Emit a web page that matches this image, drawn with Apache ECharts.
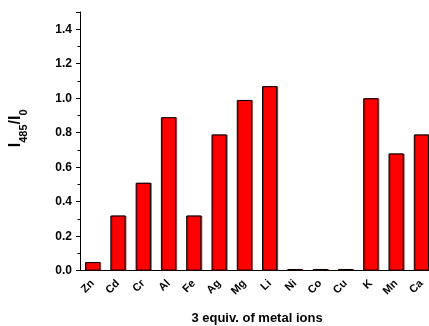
<!DOCTYPE html>
<html><head><meta charset="utf-8">
<script src="https://cdn.jsdelivr.net/npm/echarts@6/dist/echarts.min.js"></script>
<style>html,body{margin:0;padding:0;background:#fff}#c{width:429px;height:326px}</style>
</head><body><div id="c"></div>
<script>
var categories = ['Zn','Cd','Cr','Al','Fe','Ag','Mg','Li','Ni','Co','Cu','K','Mn','Ca'];
var values = [0.05,0.32,0.51,0.89,0.32,0.79,0.99,1.07,0.01,0.01,0.01,1.00,0.68,0.79];
var yTicks = [0.0,0.2,0.4,0.6,0.8,1.0,1.2,1.4];
var FONT = 'Liberation Sans, Arial, sans-serif';
var chart = echarts.init(document.getElementById('c'));
chart.setOption({
  animation:false,
  backgroundColor:'#fff',
  grid:{left:80, right:-5, top:12, bottom:55.3, containLabel:false, outerBoundsMode:'none'},
  xAxis:[{
    type:'category', data:categories, boundaryGap:true,
    axisLine:{lineStyle:{color:'#000',width:1}},
    axisTick:{alignWithLabel:true, length:3, lineStyle:{color:'#000'}},
    axisLabel:{rotate:45, color:'#000', fontFamily:FONT, fontWeight:'bold', fontSize:11, margin:11, interval:0},
    name:'3 equiv. of metal ions', nameLocation:'middle', nameGap:41,
    nameTextStyle:{color:'#000', fontFamily:FONT, fontWeight:'bold', fontSize:13}
  },{
    type:'category', data:categories, boundaryGap:true, position:'bottom',
    axisLine:{show:false},
    axisTick:{length:3, interval:0, lineStyle:{color:'#000'}},
    axisLabel:{show:false}
  }],
  yAxis:{
    type:'value', min:0, max:1.5, interval:0.2,
    axisLine:{show:true, lineStyle:{color:'#000',width:1}},
    axisTick:{show:true, length:4, lineStyle:{color:'#000'}},
    minorTick:{show:true, splitNumber:2, length:2.5, lineStyle:{color:'#000'}},
    splitLine:{show:false},
    axisLabel:{color:'#000', fontFamily:FONT, fontWeight:'bold', fontSize:12, margin:8, showMaxLabel:false,
      formatter:function(v){ return yTicks.indexOf(Math.round(v*10)/10) >= 0 ? v.toFixed(1) : ''; }},
    name:'{b|I}{s|485}{b|/I}{s|0}', nameLocation:'middle', nameGap:56,
    nameTextStyle:{color:'#000', fontFamily:FONT, fontWeight:'bold', padding:[0,0,0,26],
      rich:{b:{fontSize:16, fontWeight:'bold', fontFamily:FONT, color:'#000', verticalAlign:'bottom'},
            s:{fontSize:11, fontWeight:'bold', fontFamily:FONT, color:'#000', verticalAlign:'bottom', padding:[0,0,-5,0]}}}
  },
  series:[{
    type:'bar', data:values, barWidth:'60%', xAxisIndex:0,
    itemStyle:{color:'#ff0000', borderColor:'#000', borderWidth:1,
      shadowColor:'rgba(110,0,0,0.6)', shadowOffsetX:1, shadowOffsetY:0, shadowBlur:0}
  }]
});
</script></body></html>
